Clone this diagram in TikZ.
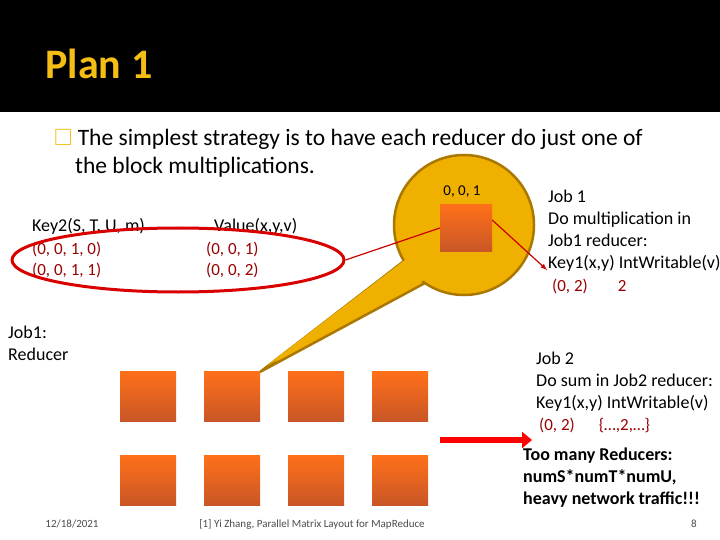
\documentclass[tikz,border=0pt]{standalone}
\usetikzlibrary{shapes.geometric,arrows.meta}
\usepackage{fontspec}
\setmainfont{Carlito}
\usepackage{amssymb}
\begin{document}
\begin{tikzpicture}[x=1pt,y=-1pt,
  sq/.style={draw=none,top color=orange!75!red!90,bottom color=orange!60!red!75!black!85,minimum width=56pt,minimum height=50pt,inner sep=0},
  txt/.style={anchor=north west,align=left,inner sep=0,font=\fontsize{18}{22}\selectfont},
  red2/.style={text=red!60!black}]
\definecolor{gold}{RGB}{240,176,0}
\definecolor{goldd}{RGB}{170,120,0}
\definecolor{topc}{RGB}{245,190,20}
\useasboundingbox (0,0) rectangle (720,540);
\fill[white] (0,0) rectangle (720,540);
\fill[black] (0,0) rectangle (720,112);
\node[anchor=west,text=topc,font=\fontsize{42}{46}\selectfont\bfseries] (title) at (42,64) {Plan 1};
\node[txt,font=\fontsize{23.5}{28}\selectfont] (bullet) at (54,129) {\textcolor{topc}{$\square$}\ The simplest strategy is to have each reducer do just one of\\\hspace{21pt}the block multiplications.};
% callout
\fill[gold,draw=goldd,line width=2.5pt] (260,372) -- (425,283) -- (404,261) -- cycle;
\fill[gold,draw=goldd,line width=2.5pt] (464,225) circle (70);
\fill[gold] (266,366) -- (428,278) -- (410,256) -- cycle;
\node[sq,minimum width=52pt,minimum height=46pt] (big) at (466,228) {};
\node[font=\fontsize{15}{16}\selectfont] (lab) at (462,192) {0, 0, 1};
% left table
\node[txt] (k2) at (32,218) {Key2(S, T, U, m)};
\node[txt] (val) at (214,218) {Value(x,y,v)};
\node[txt,red2,font=\fontsize{17}{21}\selectfont] (r1) at (32,242) {(0, 0, 1, 0)\\(0, 0, 1, 1)};
\node[txt,red2,font=\fontsize{17}{21}\selectfont] (r2) at (206,242) {(0, 0, 1)\\(0, 0, 2)};
\node[draw=red!85!black,line width=3pt,ellipse,minimum width=332pt,minimum height=64pt] (ell) at (178,260) {};
\draw[red!80!black,line width=1.2pt] (ell.east) -- (big.west);
\node[txt] (job1) at (8,326) {Job1:\\Reducer};
% right texts
\node[txt] (j1) at (548,190) {Job 1\\Do multiplication in\\Job1 reducer:\\Key1(x,y) IntWritable(v)};
\node[txt,red2,font=\fontsize{17}{21}\selectfont] (j1v) at (552,279) {(0, 2)\hspace{30pt}2};
\draw[red!80!black,line width=1.2pt,-latex] (big.east) ++(0,-8) -- (547,270);
\node[txt] (j2) at (536,352) {Job 2\\Do sum in Job2 reducer:\\Key1(x,y) IntWritable(v)};
\node[txt,red2,font=\fontsize{17}{21}\selectfont] (j2v) at (539,418) {(0, 2)\hspace{24pt}\{…,2,…\}};
\node[txt,font=\fontsize{18}{22}\selectfont\bfseries] (many) at (523,448) {Too many Reducers:\\numS*numT*numU,\\heavy network traffic!!!};
% squares
\foreach \i/\x in {1/148,2/232,3/316,4/400}{
  \node[sq] (a\i) at (\x,396) {};
  \node[sq] (b\i) at (\x,480) {};
}
\draw[red,line width=6pt,-{Triangle[length=10pt,width=16pt]}] (440,440) -- (532,440);
% footer
\node[font=\fontsize{11}{12}\selectfont,text=black!70] (d) at (72,524) {12/18/2021};
\node[font=\fontsize{11}{12}\selectfont,text=black!70] (ref) at (312,524) {[1] Yi Zhang, Parallel Matrix Layout for MapReduce};
\node[font=\fontsize{11}{12}\selectfont,text=black!70] (pg) at (694,524) {8};
\end{tikzpicture}
\end{document}
